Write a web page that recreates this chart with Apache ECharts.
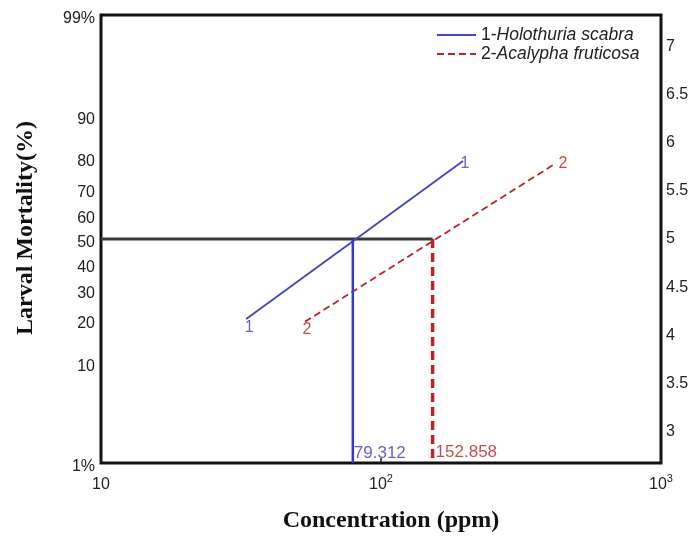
<!DOCTYPE html>
<html>
<head>
<meta charset="utf-8">
<script src="https://cdn.jsdelivr.net/npm/echarts@6/dist/echarts.min.js"></script>
<style>html,body{margin:0;padding:0;background:#fff}#c{width:692px;height:538px}</style>
</head>
<body>
<div id="c"></div>
<script>
// ---- data ----
const seriesNames = ['1-Holothuria scabra', '2-Acalypha fruticosa'];
const conc1 = [33.0, 196.3];     // ppm
const probit1 = [4.17, 5.81];    // probit units
const conc2 = [53.5, 418.0];
const probit2 = [4.14, 5.78];
const lc50 = [79.312, 152.858];
const lc50Labels = ['79.312', '152.858'];
const leftTickPercent = [1, 10, 20, 30, 40, 50, 60, 70, 80, 90, 99];
const rightTicks = [3, 3.5, 4, 4.5, 5, 5.5, 6, 6.5, 7];
const xTickValues = [10, 100, 1000];
const xTickBase = ['10', '10', '10'];
const xTickExp = ['', '2', '3'];

// inverse normal CDF (Acklam) -> probit = 5 + z
function invNorm(p) {
  const a = [-3.969683028665376e+01, 2.209460984245205e+02, -2.759285104469687e+02, 1.383577518672690e+02, -3.066479806614716e+01, 2.506628277459239e+00];
  const b = [-5.447609879822406e+01, 1.615858368580409e+02, -1.556989798598866e+02, 6.680131188771972e+01, -1.328068155288572e+01];
  const c = [-7.784894002430293e-03, -3.223964580411365e-01, -2.400758277161838e+00, -2.549732539343734e+00, 4.374664141464968e+00, 2.938163982698783e+00];
  const d = [7.784695709041462e-03, 3.224671290700398e-01, 2.445134137142996e+00, 3.754408661907416e+00];
  const pl = 0.02425, ph = 1 - pl;
  let q, r;
  if (p < pl) { q = Math.sqrt(-2 * Math.log(p)); return (((((c[0]*q+c[1])*q+c[2])*q+c[3])*q+c[4])*q+c[5]) / ((((d[0]*q+d[1])*q+d[2])*q+d[3])*q+1); }
  if (p <= ph) { q = p - 0.5; r = q*q; return (((((a[0]*r+a[1])*r+a[2])*r+a[3])*r+a[4])*r+a[5])*q / (((((b[0]*r+b[1])*r+b[2])*r+b[3])*r+b[4])*r+1); }
  q = Math.sqrt(-2 * Math.log(1 - p)); return -(((((c[0]*q+c[1])*q+c[2])*q+c[3])*q+c[4])*q+c[5]) / ((((d[0]*q+d[1])*q+d[2])*q+d[3])*q+1);
}
const probit = pct => 5 + invNorm(pct / 100);
const leftTickProbit = leftTickPercent.map(probit);
const yMin = probit(1), yMax = probit(99);

const BLUE = '#4444be', BLUE_V = '#3838d0', RED = '#be2226';
const BLUE_T = '#3c3cb4', RED_T = '#b81f24';
const sans = 'Liberation Sans, Arial, sans-serif';
const serif = 'Liberation Serif, Times New Roman, serif';

const chart = echarts.init(document.getElementById('c'), null, {renderer: 'canvas'});
chart.setOption({
  animation: false,
  backgroundColor: '#fff',
  grid: {left: 101, right: 31, top: 15, bottom: 75, show: true, borderColor: '#111', borderWidth: 3, backgroundColor: 'transparent'},
  legend: {
    data: seriesNames, orient: 'vertical', left: 431, top: 21, itemWidth: 39, itemHeight: 14, itemGap: 1,
    itemStyle: {opacity: 0},
    formatter: n => { const i = n.indexOf('-'); return '{n|' + n.slice(0, i + 1) + '}{i|' + n.slice(i + 1) + '}'; },
    textStyle: {fontFamily: sans, fontSize: 17.5, color: '#222',
      rich: {n: {fontFamily: sans, fontSize: 17.5, color: '#222'}, i: {fontFamily: sans, fontSize: 17.5, fontStyle: 'italic', color: '#222'}}}
  },
  xAxis: {
    type: 'log', logBase: 10, min: 10, max: 1000,
    name: 'Concentration (ppm)', nameLocation: 'middle', nameGap: 46,
    nameTextStyle: {fontFamily: serif, fontWeight: 'bold', fontSize: 24, color: '#111', padding: [0, 0, 0, 20]},
    axisLine: {show: false},
    axisTick: {show: true, inside: true, length: 5, lineStyle: {color: '#222', width: 1.5}},
    splitLine: {show: false},
    axisLabel: {fontFamily: sans, fontSize: 16, color: '#222', margin: 10,
      rich: {b: {fontFamily: sans, fontSize: 16, color: '#222', lineHeight: 20, verticalAlign: 'bottom'},
             s: {fontFamily: sans, fontSize: 11, color: '#222', lineHeight: 20, verticalAlign: 'top'}},
      formatter: v => { const k = xTickValues.findIndex(t => Math.abs(t - v) < 1e-6 * t); if (k < 0) return '';
        return '{b|' + xTickBase[k] + '}' + (xTickExp[k] ? '{s|' + xTickExp[k] + '}' : ''); }}
  },
  yAxis: [{
    type: 'value', min: yMin, max: yMax, position: 'left',
    name: 'Larval Mortality(%)', nameLocation: 'middle', nameGap: 63,
    nameTextStyle: {fontFamily: serif, fontWeight: 'bold', fontSize: 24, color: '#111', padding: [0, 0, 0, 22]},
    axisLine: {show: false}, axisTick: {show: false}, splitLine: {show: false},
    axisLabel: {customValues: leftTickProbit, fontFamily: sans, fontSize: 16, color: '#222', margin: 6,
      verticalAlign: 'top', lineHeight: 8,
      formatter: v => { const k = leftTickProbit.findIndex(t => Math.abs(t - v) < 1e-6); if (k < 0) return ''; const p = leftTickPercent[k]; return (p === 1 || p === 99) ? p + '%' : String(p); }}
  }, {
    type: 'value', min: yMin, max: yMax, position: 'right',
    axisLine: {show: false}, axisTick: {show: false}, splitLine: {show: false},
    axisLabel: {customValues: rightTicks, fontFamily: sans, fontSize: 16, color: '#222', margin: 5, formatter: v => String(v)}
  }],
  series: [
    {name: seriesNames[0], type: 'line', symbol: 'none', data: conc1.map((c, i) => [c, probit1[i]]),
      lineStyle: {color: BLUE, width: 1.8}, itemStyle: {color: BLUE}, z: 3},
    {name: seriesNames[1], type: 'line', symbol: 'none', data: conc2.map((c, i) => [c, probit2[i]]),
      lineStyle: {color: RED, width: 1.8, type: [7, 4]}, itemStyle: {color: RED}, z: 3},
    {type: 'line', symbol: 'none', data: [[10, 5], [lc50[1], 5]], lineStyle: {color: '#3a3a3a', width: 3}, z: 2},
    {type: 'line', symbol: 'none', data: [[lc50[0], 5], [lc50[0], yMin]], lineStyle: {color: BLUE_V, width: 2.5}, z: 4},
    {type: 'line', symbol: 'none', data: [[lc50[1], 5], [lc50[1], yMin]], lineStyle: {color: RED, width: 3.5, type: [9, 5]}, z: 4},
    {type: 'scatter', symbolSize: 0, silent: true, z: 5,
      label: {show: true, fontFamily: sans, fontSize: 16, formatter: p => p.data.t},
      data: [
        {value: [conc1[0], probit1[0]], t: '1', label: {position: 'inside', offset: [3, 9], color: BLUE_T}},
        {value: [conc1[1], probit1[1]], t: '1', label: {position: 'inside', offset: [2, 3], color: BLUE_T}},
        {value: [conc2[0], probit2[0]], t: '2', label: {position: 'inside', offset: [2, 8], color: RED_T}},
        {value: [conc2[1], probit2[1]], t: '2', label: {position: 'inside', offset: [8, 0], color: RED_T}}
      ]},
    {type: 'scatter', symbolSize: 0, silent: true, z: 5,
      label: {show: true, fontFamily: sans, fontSize: 17, position: 'right', distance: 1, formatter: p => p.data.t},
      data: [
        {value: [lc50[0], yMin], t: lc50Labels[0], label: {offset: [0, -10], color: BLUE_T}},
        {value: [lc50[1], yMin], t: lc50Labels[1], label: {offset: [2, -11], color: RED_T}}
      ]}
  ]
});
</script>
</body>
</html>
